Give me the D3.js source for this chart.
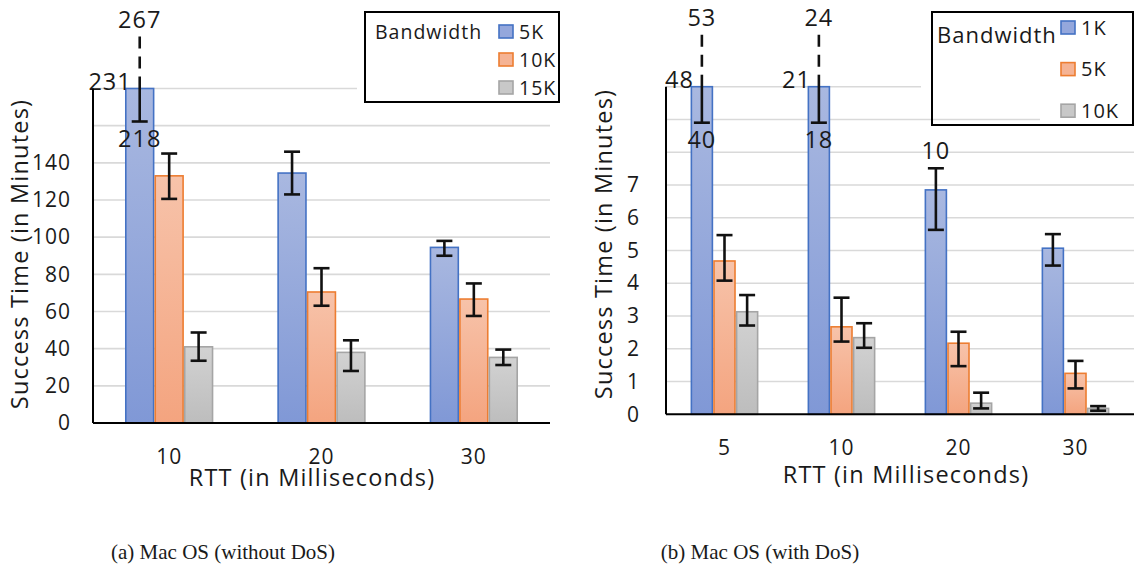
<!DOCTYPE html>
<html>
<head>
<meta charset="utf-8">
<script src="https://cdn.jsdelivr.net/npm/d3@7"></script>
<style>
  body { margin: 0; background: #fff; }
  text { fill: #1a1a1a; }
</style>
</head>
<body>
<div id="chart"></div>
<script>
// (a) Mac OS without DoS
const rttA = ["10", "20", "30"];
const bwA = ["5K", "10K", "15K"];
const meanA5K = [231, 134.5, 94.5];
const hiA5K = [267, 146, 98];
const loA5K = [218, 123, 90];
const meanA10K = [133, 70.5, 66.7];
const hiA10K = [145, 83.3, 75.1];
const loA10K = [120.6, 63.1, 57.6];
const meanA15K = [41, 38, 35.3];
const hiA15K = [48.7, 44.5, 39.5];
const loA15K = [33.5, 28, 31.2];
const tickA = [0, 20, 40, 60, 80, 100, 120, 140];
const gridA = [20, 40, 60, 80, 100, 120, 140, 160, 180];

// (b) Mac OS with DoS
const rttB = ["5", "10", "20", "30"];
const bwB = ["1K", "5K", "10K"];
const meanB1K = [48, 21, 6.85, 5.07];
const hiB1K = [53, 24, 7.51, 5.5];
const loB1K = [40, 18, 5.63, 4.54];
const noteB1K = ["", "", "10", ""];
const meanB5K = [4.68, 2.67, 2.17, 1.25];
const hiB5K = [5.47, 3.56, 2.52, 1.63];
const loB5K = [4.08, 2.22, 1.47, 0.79];
const meanB10K = [3.13, 2.34, 0.34, 0.18];
const hiB10K = [3.64, 2.78, 0.66, 0.25];
const loB10K = [2.71, 2.03, 0.18, 0.11];
const tickB = [0, 1, 2, 3, 4, 5, 6, 7];
const gridB = [1, 2, 3, 4, 5, 6, 7, 8, 9, 10];

const captions = ["(a) Mac OS (without DoS)", "(b) Mac OS (with DoS)"];

const colors = [
  {stroke: "#4472c4", top: "#a9b8e0", bottom: "#8098d6", swatch: "#94a7dc"},
  {stroke: "#ed7d31", top: "#f7c3aa", bottom: "#f4a47f", swatch: "#f5b394"},
  {stroke: "#a5a5a5", top: "#d2d2d2", bottom: "#bdbdbd", swatch: "#c8c8c8"}
];

const FONT = "'Open Sans', sans-serif";
const W = 1134, H = 573;

const svg = d3.select("#chart").append("svg")
    .attr("width", W)
    .attr("height", H);

const defs = svg.append("defs");
colors.forEach((c, i) => {
    const lg = defs.append("linearGradient")
        .attr("id", "grad" + i)
        .attr("x1", 0).attr("y1", 0).attr("x2", 0).attr("y2", 1);
    lg.append("stop").attr("offset", "0%").attr("stop-color", c.top);
    lg.append("stop").attr("offset", "100%").attr("stop-color", c.bottom);
});

function drawPanel(p) {
    const g = svg.append("g");

    const x = d3.scaleBand().domain(p.cats).range([p.x0, p.x1])
        .paddingInner(0.42).paddingOuter(0.21);
    const xs = d3.scaleBand().domain(p.series.map(s => s.name)).range([0, x.bandwidth()]);
    const y = d3.scaleLinear().domain([0, p.yMax]).range([p.yBase, p.yTop]);

    // grid lines
    g.append("g").selectAll("line")
        .data(p.grid)
        .join("line")
        .attr("x1", p.x0).attr("x2", p.x1)
        .attr("y1", d => y(d)).attr("y2", d => y(d))
        .attr("stroke", "#d9d9d9")
        .attr("stroke-width", 1.6);

    // bars
    p.series.forEach((s, si) => {
        const rows = p.cats.map((c, i) => ({cat: c, v: s.mean[i]}));
        g.append("g").selectAll("rect")
            .data(rows)
            .join("rect")
            .attr("x", d => x(d.cat) + xs(s.name) + 0.8)
            .attr("width", xs.bandwidth() - 1.6)
            .attr("y", d => y(Math.min(d.v, p.yMax)))
            .attr("height", d => p.yBase - y(Math.min(d.v, p.yMax)))
            .attr("fill", "url(#grad" + si + ")")
            .attr("stroke", colors[si].stroke)
            .attr("stroke-width", 1.6);
    });

    // error bars
    const capW = 16;
    const eg = g.append("g").attr("stroke", "#111").attr("stroke-width", 2.6);
    const lg = g.append("g").style("font-family", FONT).style("letter-spacing", "1px")
        .attr("font-size", 23.5).attr("text-anchor", "middle");
    p.series.forEach((s, si) => {
        p.cats.forEach((c, i) => {
            const cx = x(c) + xs(s.name) + xs.bandwidth() / 2;
            const m = s.mean[i], hi = s.hi[i], lo = s.lo[i];
            if (m <= p.yMax) {
                eg.append("line").attr("x1", cx).attr("x2", cx).attr("y1", y(hi)).attr("y2", y(lo));
                [hi, lo].forEach(v => eg.append("line")
                    .attr("x1", cx - capW / 2).attr("x2", cx + capW / 2)
                    .attr("y1", y(v)).attr("y2", y(v)));
                if (s.note && s.note[i]) {
                    lg.append("text").attr("x", cx).attr("y", y(hi) - 9).text(s.note[i]);
                }
            } else {
                // bar runs past the axis: dashed whisker above, low cap below the top
                const top = y(p.yMax);
                const capY = top + p.capDrop;
                const dashTop = top - p.dashRise;
                eg.append("line").attr("x1", cx).attr("x2", cx)
                    .attr("y1", dashTop).attr("y2", top - 12)
                    .attr("stroke-dasharray", "12 8");
                eg.append("line").attr("x1", cx).attr("x2", cx)
                    .attr("y1", top - 12).attr("y2", capY);
                eg.append("line").attr("x1", cx - capW / 2).attr("x2", cx + capW / 2)
                    .attr("y1", capY).attr("y2", capY);
                lg.append("text").attr("x", cx - 8).attr("y", top + 1)
                    .attr("text-anchor", "end").text(m);
                lg.append("text").attr("x", cx).attr("y", dashTop - 9).text(hi);
                lg.append("text").attr("x", cx).attr("y", capY + 25).text(lo);
            }
        });
    });

    // axes
    const ya = g.append("g")
        .attr("transform", `translate(${p.x0},0)`)
        .call(d3.axisLeft(y).tickValues(p.ticks).tickSize(0).tickPadding(p.tickPad));
    ya.select(".domain").remove();
    ya.attr("font-family", FONT).attr("font-size", 21).style("letter-spacing", "1px");

    const xa = g.append("g")
        .attr("transform", `translate(0,${p.yBase})`)
        .call(d3.axisBottom(x).tickSize(0).tickPadding(26));
    xa.select(".domain").remove();
    xa.attr("font-family", FONT).attr("font-size", 21).style("letter-spacing", "1px");

    g.append("line").attr("x1", p.x0).attr("x2", p.x0)
        .attr("y1", p.yTop).attr("y2", p.yBase)
        .attr("stroke", "#000").attr("stroke-width", 2);
    g.append("line").attr("x1", p.x0).attr("x2", p.x1)
        .attr("y1", p.yBase).attr("y2", p.yBase)
        .attr("stroke", "#000").attr("stroke-width", 2);

    // axis titles
    g.append("text")
        .attr("transform", `translate(${p.yTitleX},${p.yTitleY}) rotate(-90)`)
        .attr("text-anchor", "middle")
        .style("font-family", FONT).style("letter-spacing", "1.2px")
        .attr("font-size", 23.5)
        .text("Success Time (in Minutes)");
    g.append("text")
        .attr("x", p.xTitleX).attr("y", p.xTitleY)
        .attr("text-anchor", "middle")
        .style("font-family", FONT).style("letter-spacing", "1.2px")
        .attr("font-size", 23.5)
        .text("RTT (in Milliseconds)");

    // legend
    const L = p.legend;
    const leg = g.append("g");
    L.white.forEach(r => leg.append("rect")
        .attr("x", r[0]).attr("y", r[1]).attr("width", r[2]).attr("height", r[3])
        .attr("fill", "#fff"));
    leg.append("rect")
        .attr("x", L.x).attr("y", L.y).attr("width", L.w).attr("height", L.h)
        .attr("fill", "none").attr("stroke", "#000").attr("stroke-width", 2);
    leg.append("text")
        .attr("x", L.titleX).attr("y", L.titleY)
        .style("font-family", FONT).style("letter-spacing", "1px")
        .attr("font-size", L.titleSize)
        .text("Bandwidth");
    p.series.forEach((s, si) => {
        const cy = L.itemY + si * L.itemGap;
        leg.append("rect")
            .attr("x", L.swX).attr("y", cy - 6.5).attr("width", 14).attr("height", 13)
            .attr("fill", colors[si].swatch).attr("stroke", colors[si].stroke).attr("stroke-width", 1.6);
        leg.append("text")
            .attr("x", L.swX + 20).attr("y", cy).attr("dy", "0.36em")
            .style("font-family", FONT).style("letter-spacing", "1px")
            .attr("font-size", L.itemSize)
            .text(s.name);
    });

    // caption
    svg.append("text")
        .attr("x", p.capX).attr("y", 559)
        .attr("text-anchor", "middle")
        .style("font-family", "'Liberation Serif', serif")
        .attr("font-size", 21)
        .text(p.caption);
}

drawPanel({
    cats: rttA,
    series: [
        {name: bwA[0], mean: meanA5K, hi: hiA5K, lo: loA5K},
        {name: bwA[1], mean: meanA10K, hi: hiA10K, lo: loA10K},
        {name: bwA[2], mean: meanA15K, hi: hiA15K, lo: loA15K}
    ],
    x0: 93, x1: 550, yTop: 88.5, yBase: 423, yMax: 180,
    ticks: tickA, grid: gridA, tickPad: 22,
    capDrop: 33, dashRise: 52,
    yTitleX: 28, yTitleY: 254, xTitleX: 312, xTitleY: 486,
    legend: {x: 365, y: 12, w: 194, h: 90, white: [[357, 12, 202, 90]],
        titleX: 375, titleY: 39, titleSize: 19.5,
        swX: 499, itemY: 31.5, itemGap: 28, itemSize: 19.5},
    capX: 223, caption: captions[0]
});

drawPanel({
    cats: rttB,
    series: [
        {name: bwB[0], mean: meanB1K, hi: hiB1K, lo: loB1K, note: noteB1K},
        {name: bwB[1], mean: meanB5K, hi: hiB5K, lo: loB5K},
        {name: bwB[2], mean: meanB10K, hi: hiB10K, lo: loB10K}
    ],
    x0: 666, x1: 1134, yTop: 86.7, yBase: 414.3, yMax: 10,
    ticks: tickB, grid: gridB, tickPad: 26,
    capDrop: 36, dashRise: 52,
    yTitleX: 612, yTitleY: 244, xTitleX: 906, xTitleY: 483,
    legend: {x: 932, y: 12, w: 201, h: 113,
        white: [[921, 12, 119, 99], [1040, 12, 93, 113]],
        titleX: 937, titleY: 43, titleSize: 22,
        swX: 1061, itemY: 27.5, itemGap: 41.6, itemSize: 20},
    capX: 760, caption: captions[1]
});
</script>
</body>
</html>
